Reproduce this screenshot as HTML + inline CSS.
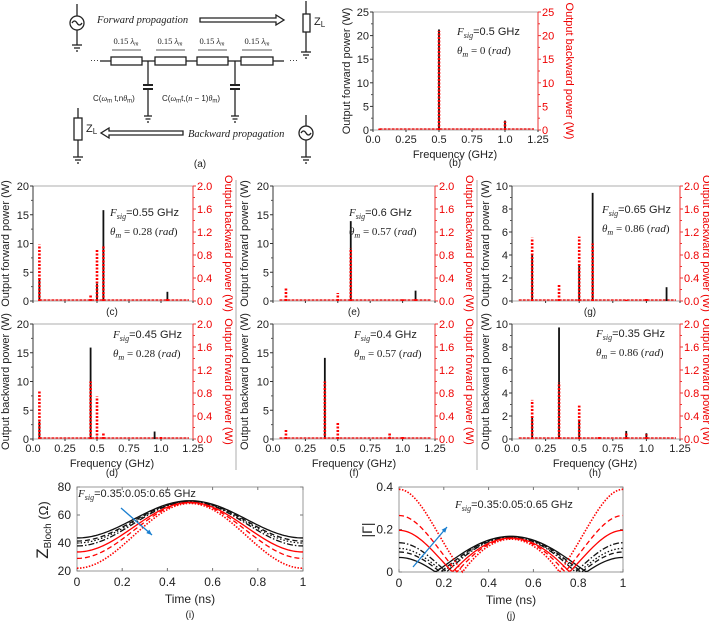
<!DOCTYPE html>
<html><head><meta charset="utf-8"><style>
html,body{margin:0;padding:0;background:#fff}
svg{display:block;font-family:"Liberation Sans",sans-serif}
.ser{font-family:"Liberation Serif",serif;font-style:italic}
</style></head><body>
<svg id="fig" width="709" height="624" viewBox="0 0 709 624" xmlns="http://www.w3.org/2000/svg">
<g id="schem" stroke="#222" fill="none" stroke-width="1.3">
  <line x1="77" y1="4" x2="77" y2="16"/><circle cx="77" cy="23" r="7"/>
  <path d="M72,23 q2.5,-4 5,0 q2.5,4 5,0"/>
  <line x1="77" y1="30" x2="77" y2="45"/><line x1="72" y1="45" x2="82" y2="45"/><line x1="74" y1="48" x2="80" y2="48"/><line x1="76" y1="51" x2="78" y2="51"/>
  <path d="M200,18 H276 V15 L284,20 L276,25 V22 H200 Z"/>
  <line x1="306" y1="1" x2="306" y2="14"/><rect x="303" y="14" width="7" height="18"/>
  <line x1="306" y1="32" x2="306" y2="52"/><line x1="301" y1="52" x2="311" y2="52"/><line x1="303" y1="55" x2="309" y2="55"/><line x1="305" y1="58" x2="307" y2="58"/>
  <line x1="100" y1="61" x2="111" y2="61"/><line x1="142" y1="61" x2="155" y2="61"/><line x1="186" y1="61" x2="197" y2="61"/><line x1="228" y1="61" x2="241" y2="61"/><line x1="273" y1="61" x2="284" y2="61"/>
  <rect x="111" y="57" width="31" height="8"/>
  <rect x="155" y="57" width="31" height="8"/>
  <rect x="197" y="57" width="31" height="8"/>
  <rect x="241" y="57" width="32" height="8"/>
  <line x1="148" y1="61" x2="148" y2="85"/><line x1="143" y1="85" x2="153" y2="85" stroke-width="2"/><line x1="143" y1="89" x2="153" y2="89" stroke-width="2"/><line x1="148" y1="89" x2="148" y2="116"/>
  <line x1="144" y1="116" x2="152" y2="116"/><line x1="145.5" y1="119" x2="150.5" y2="119"/><line x1="147" y1="122" x2="149" y2="122"/>
  <line x1="235" y1="61" x2="235" y2="85"/><line x1="230" y1="85" x2="240" y2="85" stroke-width="2"/><line x1="230" y1="89" x2="240" y2="89" stroke-width="2"/><line x1="235" y1="89" x2="235" y2="116"/>
  <line x1="231" y1="116" x2="239" y2="116"/><line x1="232.5" y1="119" x2="237.5" y2="119"/><line x1="234" y1="122" x2="236" y2="122"/>
  <g stroke-width="0.8"><line x1="112" y1="50" x2="141" y2="50"/><line x1="156" y1="50" x2="185" y2="50"/><line x1="198" y1="50" x2="227" y2="50"/><line x1="242" y1="50" x2="272" y2="50"/></g>
  <line x1="78" y1="108" x2="78" y2="118"/><rect x="74" y="118" width="8" height="22"/>
  <line x1="78" y1="140" x2="78" y2="157"/><line x1="73" y1="157" x2="83" y2="157"/><line x1="75" y1="160" x2="81" y2="160"/><line x1="77" y1="163" x2="79" y2="163"/>
  <path d="M183,131 H109 V128 L101,133 L109,138 V135 H183 Z"/>
  <line x1="306" y1="115" x2="306" y2="126"/><circle cx="306" cy="133" r="7"/>
  <path d="M301,133 q2.5,-4 5,0 q2.5,4 5,0"/>
  <line x1="306" y1="140" x2="306" y2="157"/><line x1="301" y1="157" x2="311" y2="157"/><line x1="303" y1="160" x2="309" y2="160"/><line x1="305" y1="163" x2="307" y2="163"/>
</g>
<g font-size="10" fill="#222">
  <text x="97" y="23" class="ser" font-size="10.5">Forward propagation</text>
  <text x="314" y="25" font-size="11">Z<tspan font-size="8" dy="2">L</tspan></text>
  <text x="86" y="132" font-size="11">Z<tspan font-size="8" dy="2">L</tspan></text>
  <text x="188" y="137" class="ser" font-size="10.5">Backward propagation</text>
  <text x="126" y="44" text-anchor="middle" font-family="Liberation Serif" font-size="8.5">0.15 <tspan font-style="italic">λ</tspan><tspan font-size="6" dy="1.5" font-style="italic">m</tspan></text>
  <text x="170" y="44" text-anchor="middle" font-family="Liberation Serif" font-size="8.5">0.15 <tspan font-style="italic">λ</tspan><tspan font-size="6" dy="1.5" font-style="italic">m</tspan></text>
  <text x="212" y="44" text-anchor="middle" font-family="Liberation Serif" font-size="8.5">0.15 <tspan font-style="italic">λ</tspan><tspan font-size="6" dy="1.5" font-style="italic">m</tspan></text>
  <text x="257" y="44" text-anchor="middle" font-family="Liberation Serif" font-size="8.5">0.15 <tspan font-style="italic">λ</tspan><tspan font-size="6" dy="1.5" font-style="italic">m</tspan></text>
  <text x="90" y="63" font-size="9">···</text><text x="289" y="63" font-size="9">···</text>
  <text x="93" y="101" font-size="8">C(<tspan class="ser">ω</tspan><tspan font-size="6" dy="1.5">m</tspan><tspan dy="-1.5"> t,n</tspan><tspan class="ser">θ</tspan><tspan font-size="6" dy="1.5">m</tspan><tspan dy="-1.5">)</tspan></text>
  <text x="162" y="101" font-size="8">C(<tspan class="ser">ω</tspan><tspan font-size="6" dy="1.5">m</tspan><tspan dy="-1.5">t,(</tspan><tspan class="ser">n</tspan> − 1)<tspan class="ser">θ</tspan><tspan font-size="6" dy="1.5">m</tspan><tspan dy="-1.5">)</tspan></text>
  <text x="200" y="167" text-anchor="middle" font-size="10">(a)</text>
</g>
<line x1="236" y1="180" x2="236" y2="470" stroke="#999" stroke-width="0.8"/>
<line x1="477" y1="180" x2="477" y2="470" stroke="#999" stroke-width="0.8"/>
</svg>
<script>
// ---- spectrum data (frequency GHz, power W) ----
const bBlackF=[0.05,0.5,1.0];   const bBlackP=[0.3,21.3,2.0];
const bRedF=[0.05,0.5,1.0];     const bRedP=[0.3,21.0,1.8];
const cBlackF=[0.05,0.5,0.55,1.05]; const cBlackP=[4.0,3.0,15.8,1.6];
const cRedF=[0.05,0.45,0.5,0.55,1.05]; const cRedP=[0.98,0.12,0.9,0.95,0.05];
const dBlackF=[0.05,0.45,0.5,0.95]; const dBlackP=[3.0,15.9,0.4,1.3];
const dRedF=[0.05,0.45,0.5,0.55,1.0]; const dRedP=[0.85,1.0,0.74,0.1,0.05];
const eBlackF=[0.6,1.1]; const eBlackP=[13.9,1.8];
const eRedF=[0.1,0.5,0.6,1.0,1.1]; const eRedP=[0.23,0.14,0.92,0.03,0.05];
const fBlackF=[0.4,0.9]; const fBlackP=[14.1,0.4];
const fRedF=[0.1,0.4,0.5,0.9,1.0]; const fRedP=[0.18,1.0,0.28,0.1,0.05];
const gBlackF=[0.15,0.5,0.6,1.15]; const gBlackP=[4.0,3.1,9.4,1.2];
const gRedF=[0.15,0.35,0.5,0.6,0.85,1.0]; const gRedP=[1.1,0.28,1.12,1.0,0.02,0.04];
const hBlackF=[0.15,0.35,0.5,0.85,1.0]; const hBlackP=[1.9,9.7,1.7,0.7,0.5];
const hRedF=[0.15,0.35,0.5,0.65,0.85,1.0]; const hRedP=[0.68,0.98,0.58,0.06,0.1,0.08];
const freqTicks=["0.0","0.25","0.5","0.75","1.0","1.25"];
// ---- Bloch impedance data (i) ----
const zMin=[43.6,41.4,40.0,37.9,33.6,29.0,22.0];
const zMax=[70.2,70.0,69.8,69.6,69.0,68.7,68.3];
const timeTicks=[0,0.2,0.4,0.6,0.8,1];
const zTicks=[20,40,60,80];
const gTicks=[0,0.2,0.4];

const NS="http://www.w3.org/2000/svg";
const svg=document.getElementById('fig');
function el(tag,attrs,parent,txt){const e=document.createElementNS(NS,tag);for(const k in attrs)e.setAttribute(k,attrs[k]);if(txt!==undefined)e.textContent=txt;(parent||svg).appendChild(e);return e;}

function annot(g,x,y,fs,th){
  const t=el('text',{x:x,y:y,'font-size':11,fill:'#222'},g);
  
  
  el('tspan',{'font-family':'Liberation Serif','font-style':'italic'},t,'F');
  el('tspan',{'font-family':'Liberation Serif','font-style':'italic','font-size':8,dy:3},t,'sig');
  el('tspan',{dy:-3},t,'='+fs+' GHz');
  if(th!==null){
    const t2=el('text',{x:x,y:y+19,'font-size':11,fill:'#222','font-family':'Liberation Serif'},g);
    
    
    el('tspan',{'font-style':'italic'},t2,'θ');
    el('tspan',{'font-style':'italic','font-size':8,dy:3},t2,'m');
    el('tspan',{dy:-3},t2,' = '+th+' (');
    el('tspan',{'font-style':'italic'},t2,'rad');
    el('tspan',{},t2,')');
  }
}

function spectrum(p){
  const g=el('g',{});
  
  
  const xs=f=>p.x0+f/1.25*(p.x1-p.x0);
  const yl=v=>p.y1-v/p.lmax*(p.y1-p.y0);
  const yr=v=>p.y1-v/p.rmax*(p.y1-p.y0);
  el('rect',{x:p.x0,y:p.y0,width:p.x1-p.x0,height:p.y1-p.y0,fill:'none',stroke:'#999','stroke-width':0.8},g);
  el('line',{x1:p.x0,y1:p.y0,x2:p.x0,y2:p.y1,stroke:'#333','stroke-width':1},g);
  el('line',{x1:p.x1,y1:p.y0,x2:p.x1,y2:p.y1,stroke:'#e33','stroke-width':1},g);
  // left ticks
  for(let v=0;v<=p.lmax+1e-9;v+=p.lstep){
    const y=yl(v);
    el('line',{x1:p.x0-3,y1:y,x2:p.x0,y2:y,stroke:'#333'},g);
    const t=el('text',{x:p.x0-4,y:y+4,'text-anchor':'end','font-size':11,fill:'#222'},g,String(v));
    
    
    if(v<p.lmax){const ym=yl(v+p.lstep/2);el('line',{x1:p.x0-2,y1:ym,x2:p.x0,y2:ym,stroke:'#555'},g);}
  }
  const nr=Math.round(p.rmax/p.rstep);
  for(let i=0;i<=nr;i++){
    const v=i*p.rstep,y=yr(v);
    el('line',{x1:p.x1,y1:y,x2:p.x1+3,y2:y,stroke:'#e33'},g);
    const t=el('text',{x:p.x1+4,y:y+4,'font-size':11,fill:'#e00'},g,v.toFixed(p.rdec));
    
    
    if(i<nr){const ym=yr(v+p.rstep/2);el('line',{x1:p.x1,y1:ym,x2:p.x1+2,y2:ym,stroke:'#e33'},g);}
  }
  // x ticks
  freqTicks.forEach((lab,i)=>{
    const x=xs(i*0.25);
    el('line',{x1:x,y1:p.y1,x2:x,y2:p.y1+2,stroke:'#333'},g);
    if(p.xlab){const t=el('text',{x:x,y:p.y1+13,'text-anchor':'middle','font-size':11,fill:'#222'},g,lab);
      
      }
  });
  // titles
  const lt=el('text',{x:p.ltx,y:(p.y0+p.y1)/2,'text-anchor':'middle','font-size':11,fill:'#222',transform:`rotate(-90 ${p.ltx} ${(p.y0+p.y1)/2})`},g,p.ltitle);
  
  
  const rt=el('text',{x:p.rtx,y:(p.y0+p.y1)/2,'text-anchor':'middle','font-size':11,fill:'#e00',transform:`rotate(90 ${p.rtx} ${(p.y0+p.y1)/2})`},g,p.rtitle);
  
  
  if(p.xlab){const xt=el('text',{x:p.xtx,y:p.y1+28,'text-anchor':'middle','font-size':11,fill:'#222'},g,'Frequency (GHz)');
    
    }
  const tg=el('text',{x:p.xtx,y:p.tagY,'text-anchor':'middle','font-size':10,fill:'#222'},g,'('+p.tag+')');
  
  
  // baseline
  el('line',{x1:xs(0.05),y1:p.y1-1,x2:p.x1-4,y2:p.y1-1,stroke:'#e22','stroke-width':1.5,'stroke-dasharray':'3 1'},g);
  p.bf.forEach((f,i)=>{
    const b=el('line',{x1:xs(f),y1:p.y1,x2:xs(f),y2:yl(p.bp[i]),stroke:'#111','stroke-width':1.8},g);
    
    
  });
  p.rf.forEach((f,i)=>{
    const r=el('line',{x1:xs(f),y1:p.y1,x2:xs(f),y2:yr(p.rp[i]),stroke:'#f00','stroke-width':2.6,'stroke-dasharray':'2 1.5'},g);
    
    
  });
  annot(g,p.ax,p.ay,p.fs,p.th);
}
const FW='Output forward power (W)',BW='Output backward power (W)';
spectrum({tag:'b',x0:373,x1:538,y0:12,y1:130,lmax:25,lstep:5,rmax:25,rstep:5,rdec:0,xlab:true,ltx:350,rtx:566,ltitle:FW,rtitle:BW,xtx:455,tagY:166,bf:bBlackF,bp:bBlackP,rf:bRedF,rp:bRedP,ax:457,ay:35,fs:'0.5',th:'0'});
spectrum({tag:'c',x0:33,x1:193,y0:186,y1:301,lmax:20,lstep:5,rmax:2,rstep:0.4,rdec:1,xlab:false,ltx:9,rtx:225,ltitle:FW,rtitle:BW,xtx:112,tagY:315,bf:cBlackF,bp:cBlackP,rf:cRedF,rp:cRedP,ax:110,ay:216,fs:'0.55',th:'0.28'});
spectrum({tag:'d',x0:33,x1:193,y0:324,y1:439,lmax:20,lstep:5,rmax:2,rstep:0.4,rdec:1,xlab:true,ltx:9,rtx:225,ltitle:BW,rtitle:FW,xtx:112,tagY:476,bf:dBlackF,bp:dBlackP,rf:dRedF,rp:dRedP,ax:113,ay:338,fs:'0.45',th:'0.28'});
spectrum({tag:'e',x0:273,x1:435,y0:186,y1:301,lmax:20,lstep:5,rmax:2,rstep:0.4,rdec:1,xlab:false,ltx:248,rtx:466,ltitle:FW,rtitle:BW,xtx:354,tagY:315,bf:eBlackF,bp:eBlackP,rf:eRedF,rp:eRedP,ax:349,ay:216,fs:'0.6',th:'0.57'});
spectrum({tag:'f',x0:273,x1:435,y0:324,y1:439,lmax:20,lstep:5,rmax:2,rstep:0.4,rdec:1,xlab:true,ltx:248,rtx:466,ltitle:BW,rtitle:FW,xtx:354,tagY:476,bf:fBlackF,bp:fBlackP,rf:fRedF,rp:fRedP,ax:354,ay:338,fs:'0.4',th:'0.57'});
spectrum({tag:'g',x0:512,x1:680,y0:186,y1:301,lmax:10,lstep:2,rmax:2,rstep:0.4,rdec:1,xlab:false,ltx:489,rtx:703,ltitle:FW,rtitle:BW,xtx:590,tagY:315,bf:gBlackF,bp:gBlackP,rf:gRedF,rp:gRedP,ax:602,ay:213,fs:'0.65',th:'0.86'});
spectrum({tag:'h',x0:512,x1:680,y0:324,y1:439,lmax:10,lstep:2,rmax:2,rstep:0.4,rdec:1,xlab:true,ltx:489,rtx:703,ltitle:BW,rtitle:FW,xtx:595,tagY:476,bf:hBlackF,bp:hBlackP,rf:hRedF,rp:hRedP,ax:596,ay:337,fs:'0.35',th:'0.86'});

// ---- time-domain panels ----
const styles=[{c:'#111',d:''},{c:'#111',d:'5 3'},{c:'#111',d:'1.5 2'},{c:'#111',d:'6 2 1.5 2'},{c:'#f00',d:''},{c:'#f00',d:'5 3'},{c:'#f00',d:'1.5 1.5'}];
function timePanel(p){
  const g=el('g',{});
  
  
  const xs=t=>p.x0+t*(p.x1-p.x0);
  const ys=v=>p.y1-(v-p.ymin)/(p.ymax-p.ymin)*(p.y1-p.y0);
  el('rect',{x:p.x0,y:p.y0,width:p.x1-p.x0,height:p.y1-p.y0,fill:'none',stroke:'#999','stroke-width':1},g);
  timeTicks.forEach(t=>{const x=xs(t);
    el('line',{x1:x,y1:p.y1,x2:x,y2:p.y1-3,stroke:'#777'},g);
    el('line',{x1:x,y1:p.y0,x2:x,y2:p.y0+3,stroke:'#777'},g);
    const tl=el('text',{x:x,y:p.y1+15,'text-anchor':'middle','font-size':12,fill:'#222'},g,String(t));
    
    });
  p.yt.forEach(v=>{const y=ys(v);
    el('line',{x1:p.x0,y1:y,x2:p.x0+3,y2:y,stroke:'#777'},g);
    el('line',{x1:p.x1,y1:y,x2:p.x1-3,y2:y,stroke:'#777'},g);
    const tl=el('text',{x:p.x0-6,y:y+4,'text-anchor':'end','font-size':12,fill:'#222'},g,String(v));
    
    });
  zMin.forEach((zm,k)=>{
    let d='';
    for(let i=0;i<=120;i++){const t=i/120;
      const z=zm+(zMax[k]-zm)*(1-Math.cos(2*Math.PI*t))/2;
      const v=p.gamma?Math.abs(z-50)/(z+50):z;
      d+=(i?'L':'M')+xs(t).toFixed(2)+','+ys(v).toFixed(2);}
    const s=styles[k];
    const path=el('path',{d:d,fill:'none',stroke:s.c,'stroke-width':k===6?1.6:1.3,'stroke-dasharray':s.d},g);
    
    
  });
  const xt=el('text',{x:(p.x0+p.x1)/2,y:p.y1+32,'text-anchor':'middle','font-size':12,fill:'#222'},g,'Time (ns)');
  
  
  const tg=el('text',{x:(p.x0+p.x1)/2,y:p.y1+47,'text-anchor':'middle','font-size':10,fill:'#222'},g,'('+p.tag+')');
  
  
  const ar=el('line',{x1:p.a[0],y1:p.a[1],x2:p.a[2],y2:p.a[3],stroke:'#1a7fd0','stroke-width':1.3},g);
  
  
  const ang=Math.atan2(p.a[3]-p.a[1],p.a[2]-p.a[0]);
  const hx=p.a[2],hy=p.a[3];
  el('path',{d:`M${hx},${hy}L${hx-6*Math.cos(ang-0.4)},${hy-6*Math.sin(ang-0.4)}L${hx-6*Math.cos(ang+0.4)},${hy-6*Math.sin(ang+0.4)}Z`,fill:'#1a7fd0'},g);
  annot(g,p.ax,p.ay,'0.35:0.05:0.65',null);
  return g;
}
const gi=timePanel({tag:'i',x0:77,x1:303,y0:487,y1:571,ymin:20,ymax:80,yt:zTicks,gamma:false,a:[121,508,152,535],ax:78,ay:497});
const zt=el('text',{x:0,y:0,'font-size':17,fill:'#222',transform:'translate(48 530) rotate(-90)','text-anchor':'middle'},gi);


el('tspan',{},zt,'Z');
el('tspan',{'font-size':10,dy:3},zt,'Bloch');
el('tspan',{'font-size':13,dy:-3},zt,' (Ω)');
const gj=timePanel({tag:'j',x0:399,x1:623,y0:487,y1:572,ymin:0,ymax:0.4,yt:gTicks,gamma:true,a:[413,567,447,527],ax:455,ay:508});
const gt=el('text',{x:0,y:0,'font-size':14,fill:'#222',transform:'translate(372 530) rotate(-90)','text-anchor':'middle'},gj,'|Γ|');


</script>
</body></html>
